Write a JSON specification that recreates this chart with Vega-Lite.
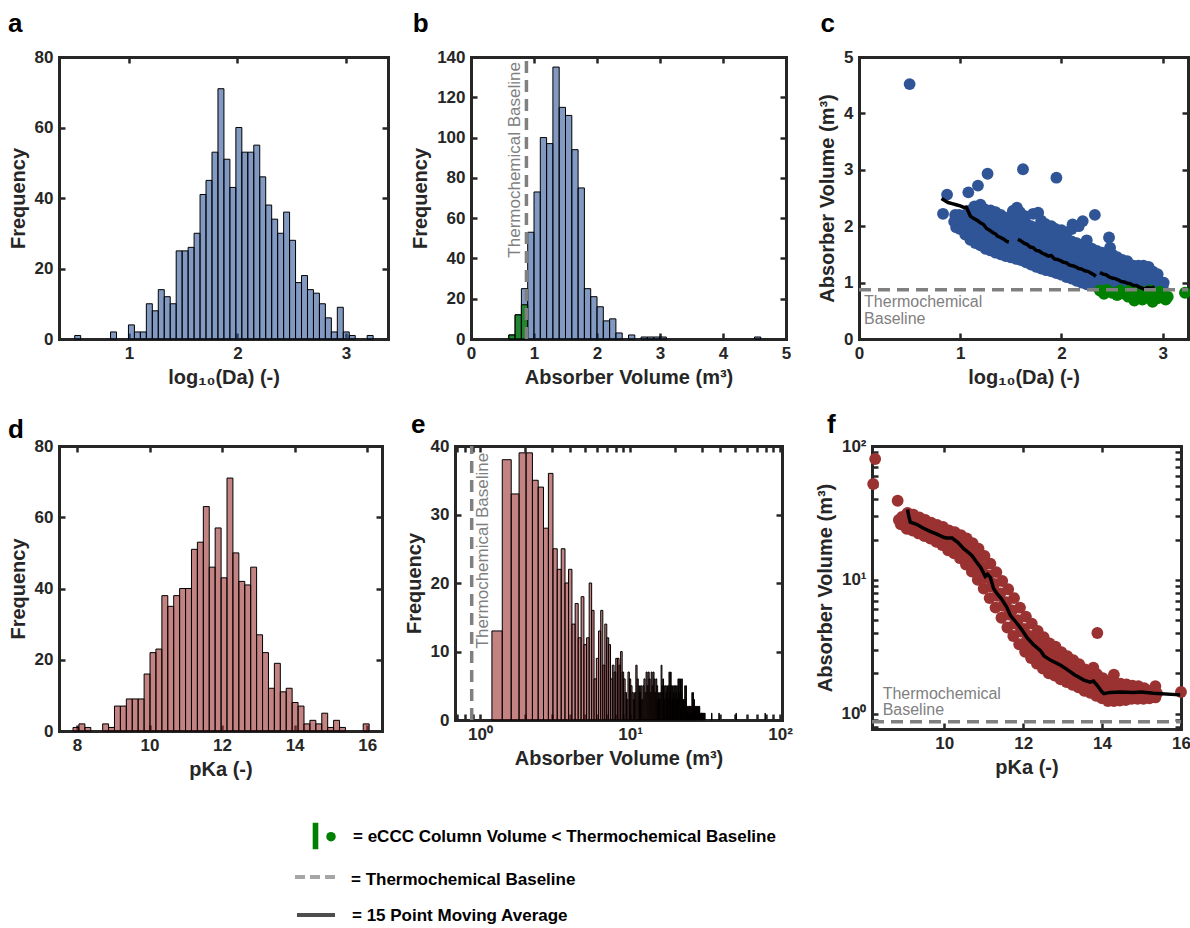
{
"$schema": "https://vega.github.io/schema/vega-lite/v6.json",
"background": "white",
"padding": {"left": 8, "top": 11, "right": 2, "bottom": 0},
"config": {
 "view": {"stroke": null},
 "font": "Liberation Sans",
 "axis": {"domain": true, "domainColor": "#262626", "domainWidth": 3, "domainCap": "square", "ticks": true, "tickColor": "#262626", "tickWidth": 2.5, "tickSize": -6, "labelPadding": 12, "grid": false, "labelFont": "Liberation Sans", "labelFontSize": 17, "labelFontWeight": "bold", "labelColor": "#262626", "titleFont": "Liberation Sans", "titleFontSize": 20, "titleFontWeight": "bold", "titleColor": "#262626", "titlePadding": 6, "labelOverlap": false, "labelFlush": false, "zindex": 1},
 "title": {"font": "Liberation Sans", "fontSize": 26, "fontWeight": "bold", "anchor": "start", "frame": "bounds", "color": "#000000"}
},
"datasets": {
 "ha": [{"lo":0.5,"hi":0.555,"n":1},{"lo":0.83,"hi":0.885,"n":2},{"lo":0.995,"hi":1.05,"n":4},{"lo":1.05,"hi":1.105,"n":2},{"lo":1.105,"hi":1.16,"n":2},{"lo":1.16,"hi":1.215,"n":10},{"lo":1.215,"hi":1.27,"n":8},{"lo":1.27,"hi":1.325,"n":14},{"lo":1.325,"hi":1.38,"n":12},{"lo":1.38,"hi":1.435,"n":10},{"lo":1.435,"hi":1.49,"n":25},{"lo":1.49,"hi":1.545,"n":25},{"lo":1.545,"hi":1.6,"n":26},{"lo":1.6,"hi":1.655,"n":30},{"lo":1.655,"hi":1.71,"n":41},{"lo":1.71,"hi":1.765,"n":45},{"lo":1.765,"hi":1.82,"n":53},{"lo":1.82,"hi":1.875,"n":71},{"lo":1.875,"hi":1.93,"n":51},{"lo":1.93,"hi":1.985,"n":43},{"lo":1.985,"hi":2.04,"n":60},{"lo":2.04,"hi":2.095,"n":53},{"lo":2.095,"hi":2.15,"n":53},{"lo":2.15,"hi":2.205,"n":55},{"lo":2.205,"hi":2.26,"n":46},{"lo":2.26,"hi":2.315,"n":38},{"lo":2.315,"hi":2.37,"n":34},{"lo":2.37,"hi":2.425,"n":30},{"lo":2.425,"hi":2.48,"n":36},{"lo":2.48,"hi":2.535,"n":28},{"lo":2.535,"hi":2.59,"n":16},{"lo":2.59,"hi":2.645,"n":18},{"lo":2.645,"hi":2.7,"n":14},{"lo":2.7,"hi":2.755,"n":13},{"lo":2.755,"hi":2.81,"n":10},{"lo":2.81,"hi":2.865,"n":6},{"lo":2.865,"hi":2.92,"n":2},{"lo":2.92,"hi":2.975,"n":9},{"lo":2.975,"hi":3.03,"n":2},{"lo":3.03,"hi":3.085,"n":1},{"lo":3.195,"hi":3.25,"n":1}],
 "hb": [{"lo":0.6,"hi":0.7,"n":2},{"lo":0.7,"hi":0.8,"n":12},{"lo":0.8,"hi":0.9,"n":25},{"lo":0.9,"hi":1.0,"n":53},{"lo":1.0,"hi":1.1,"n":73},{"lo":1.1,"hi":1.2,"n":100},{"lo":1.2,"hi":1.3,"n":97},{"lo":1.3,"hi":1.4,"n":135},{"lo":1.4,"hi":1.5,"n":115},{"lo":1.5,"hi":1.6,"n":111},{"lo":1.6,"hi":1.7,"n":94},{"lo":1.7,"hi":1.8,"n":75},{"lo":1.8,"hi":1.9,"n":25},{"lo":1.9,"hi":2.0,"n":21},{"lo":2.0,"hi":2.1,"n":16},{"lo":2.1,"hi":2.2,"n":9},{"lo":2.2,"hi":2.3,"n":10},{"lo":2.3,"hi":2.4,"n":3},{"lo":2.5,"hi":2.6,"n":2},{"lo":2.7,"hi":2.8,"n":1},{"lo":2.8,"hi":2.9,"n":1},{"lo":2.9,"hi":3.0,"n":1},{"lo":3.0,"hi":3.1,"n":1},{"lo":4.5,"hi":4.6,"n":1}],
 "hbg": [{"lo":0.6,"hi":0.7,"n":2},{"lo":0.7,"hi":0.8,"n":12},{"lo":0.8,"hi":0.9,"n":17}],
 "hd": [{"lo":7.89,"hi":8.053,"n":1},{"lo":8.053,"hi":8.217,"n":2},{"lo":8.217,"hi":8.38,"n":1},{"lo":8.707,"hi":8.87,"n":2},{"lo":8.87,"hi":9.033,"n":1},{"lo":9.033,"hi":9.196,"n":7},{"lo":9.196,"hi":9.36,"n":7},{"lo":9.36,"hi":9.523,"n":9},{"lo":9.523,"hi":9.686,"n":9},{"lo":9.686,"hi":9.85,"n":9},{"lo":9.85,"hi":10.013,"n":16},{"lo":10.013,"hi":10.176,"n":22},{"lo":10.176,"hi":10.34,"n":23},{"lo":10.34,"hi":10.503,"n":38},{"lo":10.503,"hi":10.666,"n":35},{"lo":10.666,"hi":10.829,"n":38},{"lo":10.829,"hi":10.993,"n":40},{"lo":10.993,"hi":11.156,"n":40},{"lo":11.156,"hi":11.319,"n":51},{"lo":11.319,"hi":11.483,"n":53},{"lo":11.483,"hi":11.646,"n":63},{"lo":11.646,"hi":11.809,"n":46},{"lo":11.809,"hi":11.973,"n":57},{"lo":11.973,"hi":12.136,"n":43},{"lo":12.136,"hi":12.299,"n":71},{"lo":12.299,"hi":12.462,"n":50},{"lo":12.462,"hi":12.626,"n":42},{"lo":12.626,"hi":12.789,"n":41},{"lo":12.789,"hi":12.952,"n":46},{"lo":12.952,"hi":13.116,"n":27},{"lo":13.116,"hi":13.279,"n":22},{"lo":13.279,"hi":13.442,"n":12},{"lo":13.442,"hi":13.606,"n":19},{"lo":13.606,"hi":13.769,"n":11},{"lo":13.769,"hi":13.932,"n":12},{"lo":13.932,"hi":14.096,"n":8},{"lo":14.096,"hi":14.259,"n":7},{"lo":14.259,"hi":14.422,"n":2},{"lo":14.422,"hi":14.586,"n":3},{"lo":14.586,"hi":14.749,"n":2},{"lo":14.749,"hi":14.912,"n":5},{"lo":14.912,"hi":15.076,"n":1},{"lo":15.076,"hi":15.239,"n":3},{"lo":15.239,"hi":15.402,"n":1},{"lo":15.892,"hi":16.055,"n":2}],
 "he": [{"lo":1.2,"hi":1.407,"n":13},{"lo":1.407,"hi":1.614,"n":38},{"lo":1.614,"hi":1.821,"n":33},{"lo":1.821,"hi":2.028,"n":39},{"lo":2.028,"hi":2.235,"n":39},{"lo":2.235,"hi":2.442,"n":35},{"lo":2.442,"hi":2.649,"n":34},{"lo":2.649,"hi":2.856,"n":28},{"lo":2.856,"hi":3.063,"n":36},{"lo":3.063,"hi":3.27,"n":25},{"lo":3.27,"hi":3.477,"n":22},{"lo":3.477,"hi":3.684,"n":25},{"lo":3.684,"hi":3.891,"n":20},{"lo":3.891,"hi":4.098,"n":22},{"lo":4.098,"hi":4.305,"n":14},{"lo":4.305,"hi":4.512,"n":17},{"lo":4.512,"hi":4.719,"n":12},{"lo":4.719,"hi":4.926,"n":18},{"lo":4.926,"hi":5.133,"n":11},{"lo":5.133,"hi":5.34,"n":12},{"lo":5.34,"hi":5.547,"n":20},{"lo":5.547,"hi":5.754,"n":16},{"lo":5.754,"hi":5.961,"n":6},{"lo":5.961,"hi":6.168,"n":9},{"lo":6.168,"hi":6.375,"n":13},{"lo":6.375,"hi":6.582,"n":16},{"lo":6.582,"hi":6.789,"n":8},{"lo":6.789,"hi":6.996,"n":14},{"lo":6.996,"hi":7.203,"n":12},{"lo":7.203,"hi":7.41,"n":11},{"lo":7.41,"hi":7.617,"n":6},{"lo":7.617,"hi":7.824,"n":8},{"lo":7.824,"hi":8.031,"n":7},{"lo":8.031,"hi":8.238,"n":9},{"lo":8.238,"hi":8.445,"n":9},{"lo":8.445,"hi":8.652,"n":8},{"lo":8.652,"hi":8.859,"n":10},{"lo":8.859,"hi":9.066,"n":7},{"lo":9.066,"hi":9.273,"n":6},{"lo":9.273,"hi":9.48,"n":4},{"lo":9.48,"hi":9.687,"n":3},{"lo":9.687,"hi":9.894,"n":7},{"lo":9.894,"hi":10.101,"n":6},{"lo":10.101,"hi":10.308,"n":5},{"lo":10.308,"hi":10.515,"n":4},{"lo":10.515,"hi":10.722,"n":3},{"lo":10.722,"hi":10.929,"n":4},{"lo":10.929,"hi":11.136,"n":8},{"lo":11.136,"hi":11.343,"n":6},{"lo":11.343,"hi":11.55,"n":5},{"lo":11.55,"hi":11.757,"n":4},{"lo":11.757,"hi":11.964,"n":5},{"lo":11.964,"hi":12.171,"n":3},{"lo":12.171,"hi":12.378,"n":5},{"lo":12.378,"hi":12.585,"n":6},{"lo":12.585,"hi":12.792,"n":4},{"lo":12.792,"hi":12.999,"n":7},{"lo":12.999,"hi":13.206,"n":5},{"lo":13.206,"hi":13.413,"n":7},{"lo":13.413,"hi":13.62,"n":6},{"lo":13.62,"hi":13.827,"n":4},{"lo":13.827,"hi":14.034,"n":7},{"lo":14.034,"hi":14.241,"n":5},{"lo":14.241,"hi":14.448,"n":7},{"lo":14.448,"hi":14.655,"n":6},{"lo":14.655,"hi":14.862,"n":4},{"lo":14.862,"hi":15.069,"n":6},{"lo":15.069,"hi":15.276,"n":5},{"lo":15.276,"hi":15.483,"n":3},{"lo":15.483,"hi":15.69,"n":4},{"lo":15.69,"hi":15.897,"n":3},{"lo":15.897,"hi":16.104,"n":4},{"lo":16.104,"hi":16.311,"n":8},{"lo":16.311,"hi":16.518,"n":5},{"lo":16.518,"hi":16.725,"n":6},{"lo":16.725,"hi":16.932,"n":5},{"lo":16.932,"hi":17.139,"n":3},{"lo":17.139,"hi":17.346,"n":5},{"lo":17.346,"hi":17.553,"n":4},{"lo":17.553,"hi":17.76,"n":5},{"lo":17.76,"hi":17.967,"n":3},{"lo":17.967,"hi":18.174,"n":5},{"lo":18.174,"hi":18.381,"n":7},{"lo":18.381,"hi":18.588,"n":4},{"lo":18.588,"hi":18.795,"n":7},{"lo":18.795,"hi":19.002,"n":5},{"lo":19.002,"hi":19.209,"n":3},{"lo":19.209,"hi":19.416,"n":5},{"lo":19.416,"hi":19.623,"n":4},{"lo":19.623,"hi":19.83,"n":5},{"lo":19.83,"hi":20.037,"n":3},{"lo":20.037,"hi":20.244,"n":5},{"lo":20.244,"hi":20.451,"n":4},{"lo":20.451,"hi":20.658,"n":5},{"lo":20.658,"hi":20.865,"n":3},{"lo":20.865,"hi":21.072,"n":6},{"lo":21.072,"hi":21.279,"n":4},{"lo":21.279,"hi":21.486,"n":6},{"lo":21.486,"hi":21.693,"n":3},{"lo":21.693,"hi":21.9,"n":6},{"lo":21.9,"hi":22.107,"n":4},{"lo":22.107,"hi":22.314,"n":6},{"lo":22.314,"hi":22.521,"n":3},{"lo":22.521,"hi":22.728,"n":3},{"lo":22.728,"hi":22.935,"n":2},{"lo":22.935,"hi":23.142,"n":3},{"lo":23.142,"hi":23.349,"n":5},{"lo":23.349,"hi":23.556,"n":3},{"lo":23.556,"hi":23.763,"n":5},{"lo":23.763,"hi":23.97,"n":2},{"lo":23.97,"hi":24.177,"n":2},{"lo":24.177,"hi":24.384,"n":1},{"lo":24.384,"hi":24.591,"n":2},{"lo":24.591,"hi":24.798,"n":1},{"lo":24.798,"hi":25.005,"n":2},{"lo":25.005,"hi":25.212,"n":2},{"lo":25.212,"hi":25.419,"n":1},{"lo":25.419,"hi":25.626,"n":2},{"lo":25.626,"hi":25.833,"n":1},{"lo":25.833,"hi":26.04,"n":4},{"lo":26.04,"hi":26.247,"n":2},{"lo":26.247,"hi":26.454,"n":4},{"lo":26.454,"hi":26.661,"n":1},{"lo":26.661,"hi":26.868,"n":3},{"lo":26.868,"hi":27.075,"n":2},{"lo":27.075,"hi":27.282,"n":1},{"lo":27.282,"hi":27.489,"n":2},{"lo":27.489,"hi":27.696,"n":1},{"lo":27.696,"hi":27.903,"n":2},{"lo":27.903,"hi":28.11,"n":1},{"lo":28.11,"hi":28.317,"n":2},{"lo":28.524,"hi":28.731,"n":2},{"lo":28.731,"hi":28.938,"n":1},{"lo":28.938,"hi":29.145,"n":2},{"lo":29.145,"hi":29.352,"n":1},{"lo":29.352,"hi":29.559,"n":1},{"lo":29.766,"hi":29.973,"n":1},{"lo":29.973,"hi":30.18,"n":1},{"lo":30.387,"hi":30.594,"n":1},{"lo":30.594,"hi":30.801,"n":1},{"lo":31.008,"hi":31.215,"n":1},{"lo":31.422,"hi":31.629,"n":1},{"lo":34.941,"hi":35.148,"n":1},{"lo":39.081,"hi":39.288,"n":1},{"lo":50.88,"hi":51.087,"n":1},{"lo":79.446,"hi":79.653,"n":1}],
 "sc": [{"x":0.5,"y":4.52,"g":"b"},{"x":0.83,"y":2.22,"g":"b"},{"x":0.87,"y":2.56,"g":"b"},{"x":1.08,"y":2.6,"g":"b"},{"x":1.175,"y":2.72,"g":"b"},{"x":1.27,"y":2.93,"g":"b"},{"x":1.62,"y":3.01,"g":"b"},{"x":1.95,"y":2.86,"g":"b"},{"x":2.33,"y":2.2,"g":"b"},{"x":2.47,"y":1.8,"g":"b"},{"x":2.11,"y":2.03,"g":"b"},{"x":2.21,"y":2.09,"g":"b"},
{"x":0.94,"y":2.08,"g":"b"},{"x":0.96,"y":1.98,"g":"b"},{"x":0.95,"y":2.2,"g":"b"},{"x":1.0,"y":1.95,"g":"b"},{"x":1.01,"y":2.08,"g":"b"},{"x":0.99,"y":2.2,"g":"b"},{"x":1.05,"y":1.85,"g":"b"},{"x":1.04,"y":1.98,"g":"b"},{"x":1.06,"y":2.1,"g":"b"},{"x":1.05,"y":2.2,"g":"b"},{"x":1.1,"y":1.76,"g":"b"},{"x":1.11,"y":1.9,"g":"b"},{"x":1.09,"y":2.02,"g":"b"},{"x":1.1,"y":2.15,"g":"b"},{"x":1.12,"y":2.3,"g":"b"},{"x":1.15,"y":1.7,"g":"b"},{"x":1.16,"y":1.83,"g":"b"},{"x":1.14,"y":1.96,"g":"b"},{"x":1.15,"y":2.1,"g":"b"},{"x":1.16,"y":2.22,"g":"b"},{"x":1.14,"y":2.35,"g":"b"},{"x":1.2,"y":1.66,"g":"b"},{"x":1.21,"y":1.78,"g":"b"},{"x":1.19,"y":1.92,"g":"b"},{"x":1.2,"y":2.05,"g":"b"},{"x":1.21,"y":2.18,"g":"b"},{"x":1.2,"y":2.38,"g":"b"},{"x":1.25,"y":1.6,"g":"b"},{"x":1.26,"y":1.74,"g":"b"},{"x":1.24,"y":1.88,"g":"b"},{"x":1.25,"y":2.0,"g":"b"},{"x":1.26,"y":2.14,"g":"b"},{"x":1.24,"y":2.3,"g":"b"},{"x":1.3,"y":1.57,"g":"b"},{"x":1.31,"y":1.7,"g":"b"},{"x":1.29,"y":1.84,"g":"b"},{"x":1.3,"y":1.98,"g":"b"},{"x":1.31,"y":2.12,"g":"b"},{"x":1.3,"y":2.28,"g":"b"},{"x":1.35,"y":1.53,"g":"b"},{"x":1.36,"y":1.66,"g":"b"},{"x":1.34,"y":1.8,"g":"b"},{"x":1.35,"y":1.94,"g":"b"},{"x":1.36,"y":2.08,"g":"b"},{"x":1.35,"y":2.25,"g":"b"},{"x":1.4,"y":1.5,"g":"b"},{"x":1.41,"y":1.63,"g":"b"},{"x":1.39,"y":1.76,"g":"b"},{"x":1.4,"y":1.9,"g":"b"},{"x":1.41,"y":2.05,"g":"b"},{"x":1.4,"y":2.2,"g":"b"},{"x":1.45,"y":1.47,"g":"b"},{"x":1.46,"y":1.6,"g":"b"},{"x":1.44,"y":1.74,"g":"b"},{"x":1.45,"y":1.88,"g":"b"},{"x":1.46,"y":2.02,"g":"b"},{"x":1.45,"y":2.15,"g":"b"},{"x":1.5,"y":1.45,"g":"b"},{"x":1.51,"y":1.58,"g":"b"},{"x":1.49,"y":1.72,"g":"b"},{"x":1.5,"y":1.85,"g":"b"},{"x":1.51,"y":2.0,"g":"b"},{"x":1.5,"y":2.14,"g":"b"},{"x":1.52,"y":2.27,"g":"b"},{"x":1.55,"y":1.42,"g":"b"},{"x":1.56,"y":1.55,"g":"b"},{"x":1.54,"y":1.68,"g":"b"},{"x":1.55,"y":1.82,"g":"b"},{"x":1.56,"y":1.96,"g":"b"},{"x":1.55,"y":2.1,"g":"b"},{"x":1.56,"y":2.33,"g":"b"},{"x":1.6,"y":1.4,"g":"b"},{"x":1.61,"y":1.53,"g":"b"},{"x":1.59,"y":1.66,"g":"b"},{"x":1.6,"y":1.8,"g":"b"},{"x":1.61,"y":1.94,"g":"b"},{"x":1.6,"y":2.08,"g":"b"},{"x":1.59,"y":2.25,"g":"b"},{"x":1.65,"y":1.36,"g":"b"},{"x":1.66,"y":1.5,"g":"b"},{"x":1.64,"y":1.63,"g":"b"},{"x":1.65,"y":1.77,"g":"b"},{"x":1.66,"y":1.9,"g":"b"},{"x":1.65,"y":2.05,"g":"b"},{"x":1.64,"y":2.18,"g":"b"},{"x":1.7,"y":1.32,"g":"b"},{"x":1.71,"y":1.46,"g":"b"},{"x":1.69,"y":1.6,"g":"b"},{"x":1.7,"y":1.73,"g":"b"},{"x":1.71,"y":1.86,"g":"b"},{"x":1.7,"y":2.0,"g":"b"},{"x":1.72,"y":2.22,"g":"b"},{"x":1.75,"y":1.28,"g":"b"},{"x":1.76,"y":1.42,"g":"b"},{"x":1.74,"y":1.56,"g":"b"},{"x":1.75,"y":1.7,"g":"b"},{"x":1.76,"y":1.84,"g":"b"},{"x":1.75,"y":1.98,"g":"b"},{"x":1.77,"y":2.24,"g":"b"},{"x":1.8,"y":1.25,"g":"b"},{"x":1.81,"y":1.38,"g":"b"},{"x":1.79,"y":1.52,"g":"b"},{"x":1.8,"y":1.66,"g":"b"},{"x":1.81,"y":1.8,"g":"b"},{"x":1.8,"y":1.95,"g":"b"},{"x":1.8,"y":2.1,"g":"b"},{"x":1.85,"y":1.22,"g":"b"},{"x":1.86,"y":1.35,"g":"b"},{"x":1.84,"y":1.48,"g":"b"},{"x":1.85,"y":1.62,"g":"b"},{"x":1.86,"y":1.76,"g":"b"},{"x":1.85,"y":1.9,"g":"b"},{"x":1.84,"y":2.04,"g":"b"},{"x":1.9,"y":1.2,"g":"b"},{"x":1.91,"y":1.33,"g":"b"},{"x":1.89,"y":1.46,"g":"b"},{"x":1.9,"y":1.6,"g":"b"},{"x":1.91,"y":1.74,"g":"b"},{"x":1.9,"y":1.88,"g":"b"},{"x":1.9,"y":2.0,"g":"b"},{"x":1.95,"y":1.17,"g":"b"},{"x":1.96,"y":1.3,"g":"b"},{"x":1.94,"y":1.43,"g":"b"},{"x":1.95,"y":1.57,"g":"b"},{"x":1.96,"y":1.7,"g":"b"},{"x":1.95,"y":1.84,"g":"b"},{"x":1.94,"y":1.95,"g":"b"},{"x":2.0,"y":1.14,"g":"b"},{"x":2.01,"y":1.27,"g":"b"},{"x":1.99,"y":1.4,"g":"b"},{"x":2.0,"y":1.54,"g":"b"},{"x":2.01,"y":1.67,"g":"b"},{"x":2.0,"y":1.8,"g":"b"},{"x":2.0,"y":1.93,"g":"b"},{"x":2.05,"y":1.1,"g":"b"},{"x":2.06,"y":1.23,"g":"b"},{"x":2.04,"y":1.36,"g":"b"},{"x":2.05,"y":1.5,"g":"b"},{"x":2.06,"y":1.63,"g":"b"},{"x":2.05,"y":1.76,"g":"b"},{"x":2.05,"y":1.88,"g":"b"},{"x":2.1,"y":1.07,"g":"b"},{"x":2.11,"y":1.2,"g":"b"},{"x":2.09,"y":1.33,"g":"b"},{"x":2.1,"y":1.46,"g":"b"},{"x":2.11,"y":1.6,"g":"b"},{"x":2.1,"y":1.73,"g":"b"},{"x":2.1,"y":1.95,"g":"b"},{"x":2.15,"y":1.03,"g":"b"},{"x":2.16,"y":1.16,"g":"b"},{"x":2.14,"y":1.3,"g":"b"},{"x":2.15,"y":1.43,"g":"b"},{"x":2.16,"y":1.56,"g":"b"},{"x":2.15,"y":1.7,"g":"b"},{"x":2.17,"y":2.0,"g":"b"},{"x":2.2,"y":1.0,"g":"b"},{"x":2.21,"y":1.13,"g":"b"},{"x":2.19,"y":1.26,"g":"b"},{"x":2.2,"y":1.4,"g":"b"},{"x":2.21,"y":1.53,"g":"b"},{"x":2.2,"y":1.66,"g":"b"},{"x":2.25,"y":0.97,"g":"b"},{"x":2.26,"y":1.1,"g":"b"},{"x":2.24,"y":1.23,"g":"b"},{"x":2.25,"y":1.36,"g":"b"},{"x":2.26,"y":1.5,"g":"b"},{"x":2.25,"y":1.62,"g":"b"},{"x":2.25,"y":1.75,"g":"b"},{"x":2.3,"y":0.95,"g":"b"},{"x":2.31,"y":1.08,"g":"b"},{"x":2.29,"y":1.2,"g":"b"},{"x":2.3,"y":1.33,"g":"b"},{"x":2.31,"y":1.46,"g":"b"},{"x":2.3,"y":1.6,"g":"b"},{"x":2.35,"y":0.93,"g":"b"},{"x":2.36,"y":1.05,"g":"b"},{"x":2.34,"y":1.17,"g":"b"},{"x":2.35,"y":1.3,"g":"b"},{"x":2.36,"y":1.43,"g":"b"},{"x":2.35,"y":1.56,"g":"b"},{"x":2.4,"y":0.92,"g":"b"},{"x":2.41,"y":1.03,"g":"b"},{"x":2.39,"y":1.15,"g":"b"},{"x":2.4,"y":1.27,"g":"b"},{"x":2.41,"y":1.4,"g":"b"},{"x":2.4,"y":1.53,"g":"b"},{"x":2.45,"y":0.91,"g":"b"},{"x":2.46,"y":1.02,"g":"b"},{"x":2.44,"y":1.13,"g":"b"},{"x":2.45,"y":1.25,"g":"b"},{"x":2.46,"y":1.38,"g":"b"},{"x":2.45,"y":1.5,"g":"b"},{"x":2.48,"y":1.62,"g":"b"},{"x":2.5,"y":0.9,"g":"b"},{"x":2.51,"y":1.0,"g":"b"},{"x":2.49,"y":1.12,"g":"b"},{"x":2.5,"y":1.24,"g":"b"},{"x":2.51,"y":1.36,"g":"b"},{"x":2.5,"y":1.5,"g":"b"},{"x":2.55,"y":0.9,"g":"b"},{"x":2.56,"y":1.01,"g":"b"},{"x":2.54,"y":1.12,"g":"b"},{"x":2.55,"y":1.23,"g":"b"},{"x":2.56,"y":1.34,"g":"b"},{"x":2.55,"y":1.45,"g":"b"},{"x":2.6,"y":0.9,"g":"b"},{"x":2.61,"y":1.0,"g":"b"},{"x":2.59,"y":1.1,"g":"b"},{"x":2.6,"y":1.2,"g":"b"},{"x":2.61,"y":1.3,"g":"b"},{"x":2.6,"y":1.4,"g":"b"},{"x":2.65,"y":0.9,"g":"b"},{"x":2.66,"y":1.0,"g":"b"},{"x":2.64,"y":1.1,"g":"b"},{"x":2.65,"y":1.2,"g":"b"},{"x":2.66,"y":1.3,"g":"b"},{"x":2.65,"y":1.38,"g":"b"},{"x":2.7,"y":0.9,"g":"b"},{"x":2.71,"y":1.0,"g":"b"},{"x":2.69,"y":1.1,"g":"b"},{"x":2.7,"y":1.2,"g":"b"},{"x":2.71,"y":1.3,"g":"b"},{"x":2.75,"y":0.9,"g":"b"},{"x":2.76,"y":1.0,"g":"b"},{"x":2.74,"y":1.1,"g":"b"},{"x":2.75,"y":1.2,"g":"b"},{"x":2.76,"y":1.3,"g":"b"},{"x":2.8,"y":0.9,"g":"b"},{"x":2.81,"y":1.0,"g":"b"},{"x":2.79,"y":1.1,"g":"b"},{"x":2.8,"y":1.2,"g":"b"},{"x":2.81,"y":1.3,"g":"b"},{"x":2.85,"y":0.9,"g":"b"},{"x":2.86,"y":1.0,"g":"b"},{"x":2.84,"y":1.1,"g":"b"},{"x":2.85,"y":1.2,"g":"b"},{"x":2.86,"y":1.28,"g":"b"},{"x":2.9,"y":0.9,"g":"b"},{"x":2.91,"y":1.0,"g":"b"},{"x":2.89,"y":1.1,"g":"b"},{"x":2.9,"y":1.2,"g":"b"},{"x":2.95,"y":0.9,"g":"b"},{"x":2.96,"y":1.0,"g":"b"},{"x":2.94,"y":1.1,"g":"b"},{"x":2.95,"y":1.15,"g":"b"},{"x":3.0,"y":0.92,"g":"b"},{"x":3.01,"y":1.0,"g":"b"},
{"x":2.38,"y":0.86,"g":"g"},{"x":2.42,"y":0.8,"g":"g"},{"x":2.45,"y":0.87,"g":"g"},{"x":2.5,"y":0.82,"g":"g"},{"x":2.55,"y":0.78,"g":"g"},{"x":2.58,"y":0.86,"g":"g"},{"x":2.62,"y":0.8,"g":"g"},{"x":2.66,"y":0.75,"g":"g"},{"x":2.7,"y":0.84,"g":"g"},{"x":2.72,"y":0.68,"g":"g"},{"x":2.75,"y":0.77,"g":"g"},{"x":2.78,"y":0.85,"g":"g"},{"x":2.8,"y":0.7,"g":"g"},{"x":2.83,"y":0.8,"g":"g"},{"x":2.86,"y":0.74,"g":"g"},{"x":2.88,"y":0.86,"g":"g"},{"x":2.9,"y":0.66,"g":"g"},{"x":2.92,"y":0.78,"g":"g"},{"x":2.95,"y":0.72,"g":"g"},{"x":2.97,"y":0.84,"g":"g"},{"x":3.0,"y":0.74,"g":"g"},{"x":3.03,"y":0.7,"g":"g"},{"x":3.05,"y":0.75,"g":"g"},{"x":2.68,"y":0.87,"g":"g"},{"x":2.85,"y":0.84,"g":"g"},{"x":3.22,"y":0.82,"g":"g"}],
 "mc": [{"x":0.815,"y":2.49,"s":1},{"x":0.85,"y":2.45,"s":1},{"x":0.88,"y":2.42,"s":1},{"x":0.92,"y":2.4,"s":1},{"x":0.96,"y":2.38,"s":1},{"x":1.0,"y":2.36,"s":1},{"x":1.04,"y":2.33,"s":1},{"x":1.06,"y":2.34,"s":1},{"x":1.08,"y":2.26,"s":1},{"x":1.1,"y":2.18,"s":1},{"x":1.13,"y":2.14,"s":1},{"x":1.17,"y":2.1,"s":1},{"x":1.2,"y":2.06,"s":1},{"x":1.23,"y":2.03,"s":1},{"x":1.26,"y":1.96,"s":1},{"x":1.29,"y":1.93,"s":1},{"x":1.32,"y":1.89,"s":1},{"x":1.35,"y":1.86,"s":1},{"x":1.37,"y":1.82,"s":1},{"x":1.4,"y":1.8,"s":1},{"x":1.43,"y":1.77,"s":1},{"x":1.46,"y":1.73,"s":1},{"x":1.48,"y":1.72,"s":1},
{"x":1.57,"y":1.77,"s":2},{"x":1.6,"y":1.74,"s":2},{"x":1.63,"y":1.7,"s":2},{"x":1.66,"y":1.68,"s":2},{"x":1.69,"y":1.63,"s":2},{"x":1.72,"y":1.62,"s":2},{"x":1.75,"y":1.57,"s":2},{"x":1.78,"y":1.56,"s":2},{"x":1.81,"y":1.52,"s":2},{"x":1.84,"y":1.5,"s":2},{"x":1.87,"y":1.47,"s":2},{"x":1.9,"y":1.48,"s":2},{"x":1.93,"y":1.42,"s":2},{"x":1.96,"y":1.41,"s":2},{"x":1.99,"y":1.39,"s":2},{"x":2.02,"y":1.36,"s":2},{"x":2.05,"y":1.35,"s":2},{"x":2.08,"y":1.31,"s":2},{"x":2.11,"y":1.3,"s":2},{"x":2.14,"y":1.28,"s":2},{"x":2.17,"y":1.25,"s":2},{"x":2.2,"y":1.24,"s":2},{"x":2.23,"y":1.21,"s":2},{"x":2.26,"y":1.2,"s":2},{"x":2.29,"y":1.17,"s":2},{"x":2.32,"y":1.14,"s":2},{"x":2.34,"y":1.11,"s":2},
{"x":2.38,"y":1.18,"s":3},{"x":2.41,"y":1.15,"s":3},{"x":2.44,"y":1.14,"s":3},{"x":2.47,"y":1.1,"s":3},{"x":2.5,"y":1.08,"s":3},{"x":2.53,"y":1.07,"s":3},{"x":2.56,"y":1.05,"s":3},{"x":2.59,"y":1.02,"s":3},{"x":2.62,"y":1.01,"s":3},{"x":2.65,"y":0.99,"s":3},{"x":2.68,"y":0.98,"s":3},{"x":2.71,"y":0.95,"s":3},{"x":2.74,"y":0.95,"s":3},{"x":2.77,"y":0.92,"s":3},{"x":2.8,"y":0.9,"s":3},{"x":2.82,"y":0.88,"s":3},{"x":2.85,"y":0.91,"s":3},{"x":2.88,"y":0.9,"s":3},{"x":2.92,"y":0.92,"s":3}],
 "sf": [{"x":8.25,"y":80},{"x":8.2,"y":52},{"x":8.82,"y":39},{"x":8.85,"y":28},{"x":13.88,"y":4.0},{"x":13.78,"y":2.2},{"x":14.3,"y":1.95},{"x":15.35,"y":1.6},{"x":16.0,"y":1.45},{"x":8.9,"y":26},{"x":8.93,"y":29.5},
{"x":9.05,"y":24.0},{"x":9.09,"y":26.3},{"x":9.02,"y":28.8},{"x":9.07,"y":31.6},{"x":9.2,"y":23.3},{"x":9.24,"y":25.5},{"x":9.17,"y":28.0},{"x":9.22,"y":30.7},{"x":9.35,"y":22.2},{"x":9.39,"y":24.4},{"x":9.32,"y":26.7},{"x":9.37,"y":29.3},{"x":9.5,"y":21.2},{"x":9.54,"y":23.3},{"x":9.47,"y":25.5},{"x":9.52,"y":28.0},{"x":9.65,"y":20.3},{"x":9.69,"y":22.2},{"x":9.62,"y":24.4},{"x":9.67,"y":26.7},{"x":9.8,"y":19.2},{"x":9.84,"y":21.2},{"x":9.77,"y":23.3},{"x":9.82,"y":25.7},{"x":9.95,"y":18.2},{"x":9.99,"y":20.1},{"x":9.92,"y":22.4},{"x":9.97,"y":24.8},{"x":10.1,"y":16.6},{"x":10.14,"y":18.6},{"x":10.07,"y":20.9},{"x":10.12,"y":23.4},{"x":10.25,"y":15.8},{"x":10.29,"y":17.9},{"x":10.22,"y":20.1},{"x":10.27,"y":22.7},{"x":10.4,"y":14.5},{"x":10.44,"y":16.5},{"x":10.37,"y":18.9},{"x":10.42,"y":21.6},{"x":10.55,"y":13.0},{"x":10.59,"y":15.1},{"x":10.52,"y":17.5},{"x":10.57,"y":20.4},{"x":10.7,"y":11.5},{"x":10.74,"y":13.5},{"x":10.67,"y":16.0},{"x":10.72,"y":18.8},{"x":10.85,"y":10.0},{"x":10.89,"y":12.0},{"x":10.82,"y":14.3},{"x":10.87,"y":17.1},{"x":11.0,"y":8.6},{"x":11.04,"y":10.4},{"x":10.97,"y":12.5},{"x":11.02,"y":15.1},{"x":11.15,"y":7.3},{"x":11.19,"y":8.9},{"x":11.12,"y":10.8},{"x":11.17,"y":13.2},{"x":11.3,"y":6.2},{"x":11.34,"y":7.6},{"x":11.27,"y":9.3},{"x":11.32,"y":11.4},{"x":11.45,"y":5.2},{"x":11.49,"y":6.4},{"x":11.42,"y":7.9},{"x":11.47,"y":9.8},{"x":11.6,"y":4.4},{"x":11.64,"y":5.5},{"x":11.57,"y":6.8},{"x":11.62,"y":8.5},{"x":11.75,"y":3.8},{"x":11.79,"y":4.7},{"x":11.72,"y":5.9},{"x":11.77,"y":7.3},{"x":11.9,"y":3.3},{"x":11.94,"y":4.1},{"x":11.87,"y":5.0},{"x":11.92,"y":6.2},{"x":12.05,"y":2.9},{"x":12.09,"y":3.5},{"x":12.02,"y":4.3},{"x":12.07,"y":5.3},{"x":12.2,"y":2.6},{"x":12.24,"y":3.1},{"x":12.17,"y":3.8},{"x":12.22,"y":4.7},{"x":12.35,"y":2.36},{"x":12.39,"y":2.84},{"x":12.32,"y":3.44},{"x":12.37,"y":4.14},{"x":12.5,"y":2.17},{"x":12.54,"y":2.59},{"x":12.47,"y":3.1},{"x":12.52,"y":3.72},{"x":12.65,"y":2.0},{"x":12.69,"y":2.38},{"x":12.62,"y":2.82},{"x":12.67,"y":3.35},{"x":12.8,"y":1.92},{"x":12.84,"y":2.27},{"x":12.77,"y":2.68},{"x":12.82,"y":3.16},{"x":12.95,"y":1.8},{"x":12.99,"y":2.11},{"x":12.92,"y":2.47},{"x":12.97,"y":2.88},{"x":13.1,"y":1.72},{"x":13.14,"y":2.0},{"x":13.07,"y":2.32},{"x":13.12,"y":2.69},{"x":13.25,"y":1.64},{"x":13.29,"y":1.89},{"x":13.22,"y":2.18},{"x":13.27,"y":2.51},{"x":13.4,"y":1.57},{"x":13.44,"y":1.79},{"x":13.37,"y":2.05},{"x":13.42,"y":2.34},{"x":13.55,"y":1.48},{"x":13.59,"y":1.67},{"x":13.52,"y":1.89},{"x":13.57,"y":2.14},{"x":13.7,"y":1.43},{"x":13.74,"y":1.61},{"x":13.67,"y":1.83},{"x":13.72,"y":2.07},{"x":13.85,"y":1.36},{"x":13.89,"y":1.54},{"x":13.82,"y":1.75},{"x":13.87,"y":1.97},{"x":14.0,"y":1.3},{"x":14.04,"y":1.46},{"x":13.97,"y":1.64},{"x":14.02,"y":1.84},{"x":14.15,"y":1.24},{"x":14.19,"y":1.38},{"x":14.12,"y":1.55},{"x":14.17,"y":1.73},{"x":14.3,"y":1.24},{"x":14.34,"y":1.37},{"x":14.27,"y":1.52},{"x":14.32,"y":1.69},{"x":14.45,"y":1.25},{"x":14.49,"y":1.38},{"x":14.42,"y":1.52},{"x":14.47,"y":1.67},{"x":14.6,"y":1.26},{"x":14.64,"y":1.38},{"x":14.57,"y":1.51},{"x":14.62,"y":1.65},{"x":14.75,"y":1.29},{"x":14.79,"y":1.39},{"x":14.72,"y":1.5},{"x":14.77,"y":1.62},{"x":14.9,"y":1.29},{"x":14.94,"y":1.38},{"x":14.87,"y":1.49},{"x":14.92,"y":1.6},{"x":15.05,"y":1.29},{"x":15.09,"y":1.37},{"x":15.02,"y":1.46},{"x":15.07,"y":1.55},{"x":15.2,"y":1.3},{"x":15.24,"y":1.4},{"x":15.17,"y":1.48},{"x":15.35,"y":1.32},{"x":15.39,"y":1.42}],
 "mf": [{"x":9.07,"y":33.5},{"x":9.1,"y":30},{"x":9.14,"y":27},{"x":9.3,"y":26},{"x":9.45,"y":24.5},{"x":9.64,"y":23},{"x":9.8,"y":22},{"x":10.0,"y":20.7},{"x":10.07,"y":20.5},{"x":10.2,"y":20.5},{"x":10.35,"y":19},{"x":10.5,"y":17},{"x":10.58,"y":16.3},{"x":10.7,"y":15.2},{"x":10.8,"y":13.8},{"x":10.92,"y":12.4},{"x":11.04,"y":10.6},{"x":11.1,"y":11},{"x":11.17,"y":10.4},{"x":11.25,"y":8.6},{"x":11.35,"y":7.8},{"x":11.45,"y":7.2},{"x":11.59,"y":6.2},{"x":11.68,"y":5.4},{"x":11.8,"y":4.9},{"x":11.95,"y":4.3},{"x":12.1,"y":3.7},{"x":12.25,"y":3.3},{"x":12.44,"y":2.95},{"x":12.53,"y":2.7},{"x":12.7,"y":2.5},{"x":12.95,"y":2.3},{"x":13.1,"y":2.15},{"x":13.3,"y":1.95},{"x":13.54,"y":1.78},{"x":13.7,"y":1.72},{"x":13.78,"y":1.75},{"x":13.88,"y":1.62},{"x":14.0,"y":1.45},{"x":14.05,"y":1.41},{"x":14.2,"y":1.44},{"x":14.47,"y":1.45},{"x":14.8,"y":1.44},{"x":15.0,"y":1.45},{"x":15.3,"y":1.42},{"x":15.98,"y":1.38}]
},
"vconcat": [
 {"hconcat": [
  {"width": 329, "height": 282, "title": {"text": "a", "offset": 11, "dx": 0},
   "data": {"name": "ha"},
   "layer": [
    {"mark": {"type": "rect", "fill": "#2F5597", "fillOpacity": 0.6, "stroke": "#000000", "strokeWidth": 1},
     "encoding": {"x": {"field": "lo", "type": "quantitative", "scale": {"domain": [0.355, 3.387], "nice": false, "zero": false}, "axis": {"orient": "bottom", "values": [1, 2, 3], "title": "log₁₀(Da) (-)"}}, "x2": {"field": "hi"},
      "y": {"field": "n", "type": "quantitative", "scale": {"domain": [0, 80], "nice": false}, "axis": {"orient": "left", "values": [0, 20, 40, 60, 80], "title": "Frequency"}}, "y2": {"datum": 0}}},
    {"mark": {"type": "rect", "opacity": 0},
     "encoding": {"x": {"field": "lo", "type": "quantitative", "axis": {"orient": "top", "values": [1, 2, 3], "labels": false, "title": null}}, "x2": {"field": "hi"},
      "y": {"field": "n", "type": "quantitative", "axis": {"orient": "right", "values": [0, 20, 40, 60, 80], "labels": false, "title": null}}, "y2": {"datum": 0}}}
   ],
   "resolve": {"axis": {"x": "independent", "y": "independent"}}},
  {"width": 63, "height": 10, "data": {"values": [{"t": ""}]}, "mark": {"type": "text"}, "encoding": {"text": {"field": "t"}}},
  {"width": 315, "height": 282, "title": {"text": "b", "offset": 11, "dx": 2},
   "layer": [
    {"data": {"name": "hb"}, "mark": {"type": "rect", "fill": "#2F5597", "fillOpacity": 0.6, "stroke": "#000000", "strokeWidth": 1},
     "encoding": {"x": {"field": "lo", "type": "quantitative", "scale": {"domain": [0, 5], "nice": false, "zero": false}, "axis": {"orient": "bottom", "values": [0, 1, 2, 3, 4, 5], "title": "Absorber Volume (m³)"}}, "x2": {"field": "hi"},
      "y": {"field": "n", "type": "quantitative", "scale": {"domain": [0, 140], "nice": false}, "axis": {"orient": "left", "values": [0, 20, 40, 60, 80, 100, 120, 140], "title": "Frequency"}}, "y2": {"datum": 0}}},
    {"data": {"name": "hbg"}, "mark": {"type": "rect", "fill": "#008000", "fillOpacity": 0.75, "stroke": "#000000", "strokeWidth": 1},
     "encoding": {"x": {"field": "lo", "type": "quantitative", "axis": null}, "x2": {"field": "hi"}, "y": {"field": "n", "type": "quantitative", "axis": null}, "y2": {"datum": 0}}},
    {"data": {"values": [{"v": 0.88, "lo": 0, "hi": 138}]}, "mark": {"type": "rule", "color": "#808080", "strokeWidth": 3.5, "strokeDash": [12, 7]},
     "encoding": {"x": {"field": "v", "type": "quantitative", "axis": {"orient": "top", "values": [0, 1, 2, 3, 4, 5], "labels": false, "title": null}},
      "y": {"field": "lo", "type": "quantitative", "axis": {"orient": "right", "values": [0, 20, 40, 60, 80, 100, 120, 140], "labels": false, "title": null}}, "y2": {"field": "hi"}}},
    {"data": {"values": [{"x": 0.78, "y": 137.5, "t": "Thermochemical Baseline"}]}, "mark": {"type": "text", "angle": 270, "align": "right", "baseline": "alphabetic", "font": "Liberation Sans", "fontSize": 17, "color": "#808080"},
     "encoding": {"x": {"field": "x", "type": "quantitative", "axis": null}, "y": {"field": "y", "type": "quantitative", "axis": null}, "text": {"field": "t"}}}
   ],
   "resolve": {"axis": {"x": "independent", "y": "independent"}}},
  {"width": 53, "height": 10, "data": {"values": [{"t": ""}]}, "mark": {"type": "text"}, "encoding": {"text": {"field": "t"}}},
  {"width": 329, "height": 282, "title": {"text": "c", "offset": 11, "dx": 3},
   "layer": [
    {"data": {"name": "sc"}, "mark": {"type": "point", "filled": true, "size": 140, "opacity": 1},
     "encoding": {"x": {"field": "x", "type": "quantitative", "scale": {"domain": [0, 3.25], "nice": false, "zero": false}, "axis": {"orient": "bottom", "values": [0, 1, 2, 3], "title": "log₁₀(Da) (-)"}},
      "y": {"field": "y", "type": "quantitative", "scale": {"domain": [0, 5], "nice": false}, "axis": {"orient": "left", "values": [0, 1, 2, 3, 4, 5], "title": "Absorber Volume (m³)"}},
      "color": {"field": "g", "type": "nominal", "scale": {"domain": ["b", "g"], "range": ["#2F5597", "#008000"]}, "legend": null}}},
    {"data": {"name": "mc"}, "mark": {"type": "line", "color": "#000000", "strokeWidth": 3.5},
     "encoding": {"x": {"field": "x", "type": "quantitative", "axis": null}, "y": {"field": "y", "type": "quantitative", "axis": null}, "detail": {"field": "s", "type": "nominal"}}},
    {"data": {"values": [{"y": 0.875, "lo": 0, "hi": 3.25}]}, "mark": {"type": "rule", "color": "#808080", "strokeWidth": 3.5, "strokeDash": [12, 7]},
     "encoding": {"x": {"field": "lo", "type": "quantitative", "axis": {"orient": "top", "values": [0, 1, 2, 3], "labels": false, "title": null}}, "x2": {"field": "hi"},
      "y": {"field": "y", "type": "quantitative", "axis": {"orient": "right", "values": [0, 1, 2, 3, 4, 5], "labels": false, "title": null}}}},
    {"data": {"values": [{"x": 0.05, "y": 0.56, "t": "Thermochemical"}, {"x": 0.05, "y": 0.27, "t": "Baseline"}]}, "mark": {"type": "text", "align": "left", "baseline": "alphabetic", "font": "Liberation Sans", "fontSize": 16, "color": "#808080"},
     "encoding": {"x": {"field": "x", "type": "quantitative", "axis": null}, "y": {"field": "y", "type": "quantitative", "axis": null}, "text": {"field": "t"}}}
   ],
   "resolve": {"axis": {"x": "independent", "y": "independent"}}}
 ], "spacing": 10, "bounds": "flush"},
 {"hconcat": [
  {"width": 323, "height": 285, "title": {"text": "d", "offset": -6, "dx": 0},
   "layer": [
    {"data": {"name": "hd"},
     "layer": [
      {"mark": {"type": "rect", "fill": "#9B3131", "fillOpacity": 0.6, "stroke": "#000000", "strokeWidth": 1},
       "encoding": {"x": {"field": "lo", "type": "quantitative", "scale": {"domain": [7.503, 16.41], "nice": false, "zero": false}, "axis": {"orient": "bottom", "values": [8, 10, 12, 14, 16], "title": "pKa (-)"}}, "x2": {"field": "hi"},
        "y": {"field": "n", "type": "quantitative", "scale": {"domain": [0, 80], "nice": false}, "axis": {"orient": "left", "values": [0, 20, 40, 60, 80], "title": "Frequency"}}, "y2": {"datum": 0}}},
      {"mark": {"type": "rect", "opacity": 0},
       "encoding": {"x": {"field": "lo", "type": "quantitative", "axis": {"orient": "top", "values": [8, 10, 12, 14, 16], "labels": false, "title": null}}, "x2": {"field": "hi"},
        "y": {"field": "n", "type": "quantitative", "axis": {"orient": "right", "values": [0, 20, 40, 60, 80], "labels": false, "title": null}}, "y2": {"datum": 0}}}
     ],
     "resolve": {"axis": {"x": "independent", "y": "independent"}}},
    {"layer": [
      {"data": {"values": [{"u": 253.7, "u2": 259.3, "v": 376.7, "v2": 403.3}]}, "mark": {"type": "rect", "color": "#008000"},
       "encoding": {"x": {"field": "u", "type": "quantitative", "scale": {"domain": [0, 323], "nice": false, "zero": false}, "axis": null}, "x2": {"field": "u2"},
        "y": {"field": "v", "type": "quantitative", "scale": {"domain": [0, 285], "nice": false, "zero": false, "reverse": true}, "axis": null}, "y2": {"field": "v2"}}},
      {"data": {"values": [{"u": 272, "v": 390.7}]}, "mark": {"type": "point", "filled": true, "size": 90, "opacity": 1, "color": "#008000"},
       "encoding": {"x": {"field": "u", "type": "quantitative", "axis": null}, "y": {"field": "v", "type": "quantitative", "axis": null}}},
      {"data": {"values": [{"u": 236, "u2": 276, "v": 431}]}, "mark": {"type": "rule", "color": "#A6A6A6", "strokeWidth": 4, "strokeDash": [10, 5]},
       "encoding": {"x": {"field": "u", "type": "quantitative", "axis": null}, "x2": {"field": "u2"}, "y": {"field": "v", "type": "quantitative", "axis": null}}},
      {"data": {"values": [{"u": 238, "u2": 276, "v": 469}]}, "mark": {"type": "rule", "color": "#4D4D4D", "strokeWidth": 4},
       "encoding": {"x": {"field": "u", "type": "quantitative", "axis": null}, "x2": {"field": "u2"}, "y": {"field": "v", "type": "quantitative", "axis": null}}},
      {"data": {"values": [{"u": 294, "v": 396, "t": "= eCCC Column Volume < Thermochemical Baseline"}, {"u": 292, "v": 439, "t": "= Thermochemical Baseline"}, {"u": 293, "v": 475, "t": "= 15 Point Moving Average"}]},
       "mark": {"type": "text", "align": "left", "baseline": "alphabetic", "font": "Liberation Sans", "fontWeight": "bold", "fontSize": 17, "color": "#000000"},
       "encoding": {"x": {"field": "u", "type": "quantitative", "axis": null}, "y": {"field": "v", "type": "quantitative", "axis": null}, "text": {"field": "t"}}}
    ]}
   ],
   "resolve": {"scale": {"x": "independent", "y": "independent"}, "axis": {"x": "independent", "y": "independent"}}},
  {"width": 53, "height": 10, "data": {"values": [{"t": ""}]}, "mark": {"type": "text"}, "encoding": {"text": {"field": "t"}}},
  {"width": 327, "height": 274, "title": {"text": "e", "offset": -1, "dx": 7},
   "layer": [
    {"data": {"name": "he"}, "mark": {"type": "rect", "fill": "#9B3131", "fillOpacity": 0.6, "stroke": "#000000", "strokeWidth": 1},
     "encoding": {"x": {"field": "lo", "type": "quantitative", "scale": {"type": "log", "domain": [0.681, 103], "nice": false}, "axis": {"orient": "bottom", "values": [0.7, 0.8, 0.9, 1, 2, 3, 4, 5, 6, 7, 8, 9, 10, 20, 30, 40, 50, 60, 70, 80, 90, 100], "labelExpr": "datum.value == 1 ? '10⁰' : datum.value == 10 ? '10¹' : datum.value == 100 ? '10²' : ''", "title": "Absorber Volume (m³)"}}, "x2": {"field": "hi"},
      "y": {"field": "n", "type": "quantitative", "scale": {"domain": [0, 40], "nice": false}, "axis": {"orient": "left", "values": [0, 10, 20, 30, 40], "title": "Frequency"}}, "y2": {"datum": 0}}},
    {"data": {"values": [{"v": 0.88, "lo": 0, "hi": 40}]}, "mark": {"type": "rule", "color": "#808080", "strokeWidth": 3.5, "strokeDash": [12, 7]},
     "encoding": {"x": {"field": "v", "type": "quantitative", "axis": {"orient": "top", "values": [0.7, 0.8, 0.9, 1, 2, 3, 4, 5, 6, 7, 8, 9, 10, 20, 30, 40, 50, 60, 70, 80, 90, 100], "labels": false, "title": null}},
      "y": {"field": "lo", "type": "quantitative", "axis": {"orient": "right", "values": [0, 10, 20, 30, 40], "labels": false, "title": null}}, "y2": {"field": "hi"}}},
    {"data": {"values": [{"x": 1.13, "y": 39, "t": "Thermochemical Baseline"}]}, "mark": {"type": "text", "angle": 270, "align": "right", "baseline": "alphabetic", "font": "Liberation Sans", "fontSize": 17, "color": "#808080"},
     "encoding": {"x": {"field": "x", "type": "quantitative", "axis": null}, "y": {"field": "y", "type": "quantitative", "axis": null}, "text": {"field": "t"}}}
   ],
   "resolve": {"axis": {"x": "independent", "y": "independent"}}},
  {"width": 70, "height": 10, "data": {"values": [{"t": ""}]}, "mark": {"type": "text"}, "encoding": {"text": {"field": "t"}}},
  {"width": 309, "height": 283, "title": {"text": "f", "offset": -1, "dx": 12},
   "layer": [
    {"data": {"name": "sf"}, "mark": {"type": "point", "filled": true, "size": 140, "opacity": 1, "color": "#9A3232"},
     "encoding": {"x": {"field": "x", "type": "quantitative", "scale": {"domain": [8.17, 16], "nice": false, "zero": false}, "axis": {"orient": "bottom", "values": [10, 12, 14, 16], "title": "pKa (-)"}},
      "y": {"field": "y", "type": "quantitative", "scale": {"type": "log", "domain": [0.767, 100], "nice": false}, "axis": {"orient": "left", "values": [0.8, 0.9, 1, 2, 3, 4, 5, 6, 7, 8, 9, 10, 20, 30, 40, 50, 60, 70, 80, 90, 100], "labelExpr": "datum.value == 1 ? '10⁰' : datum.value == 10 ? '10¹' : datum.value == 100 ? '10²' : ''", "title": "Absorber Volume (m³)"}}}},
    {"data": {"name": "mf"}, "mark": {"type": "line", "color": "#000000", "strokeWidth": 3.5},
     "encoding": {"x": {"field": "x", "type": "quantitative", "axis": null}, "y": {"field": "y", "type": "quantitative", "axis": null}}},
    {"data": {"values": [{"y": 0.87, "lo": 8.17, "hi": 16}]}, "mark": {"type": "rule", "color": "#808080", "strokeWidth": 3.5, "strokeDash": [12, 7]},
     "encoding": {"x": {"field": "lo", "type": "quantitative", "axis": {"orient": "top", "values": [10, 12, 14, 16], "labels": false, "title": null}}, "x2": {"field": "hi"},
      "y": {"field": "y", "type": "quantitative", "axis": {"orient": "right", "values": [0.8, 0.9, 1, 2, 3, 4, 5, 6, 7, 8, 9, 10, 20, 30, 40, 50, 60, 70, 80, 90, 100], "labels": false, "title": null}}}},
    {"data": {"values": [{"x": 8.44, "y": 1.28, "t": "Thermochemical"}, {"x": 8.44, "y": 0.97, "t": "Baseline"}]}, "mark": {"type": "text", "align": "left", "baseline": "alphabetic", "font": "Liberation Sans", "fontSize": 16, "color": "#808080"},
     "encoding": {"x": {"field": "x", "type": "quantitative", "axis": null}, "y": {"field": "y", "type": "quantitative", "axis": null}, "text": {"field": "t"}}}
   ],
   "resolve": {"axis": {"x": "independent", "y": "independent"}}}
 ], "spacing": 10, "bounds": "flush"}
],
"spacing": 25
}
